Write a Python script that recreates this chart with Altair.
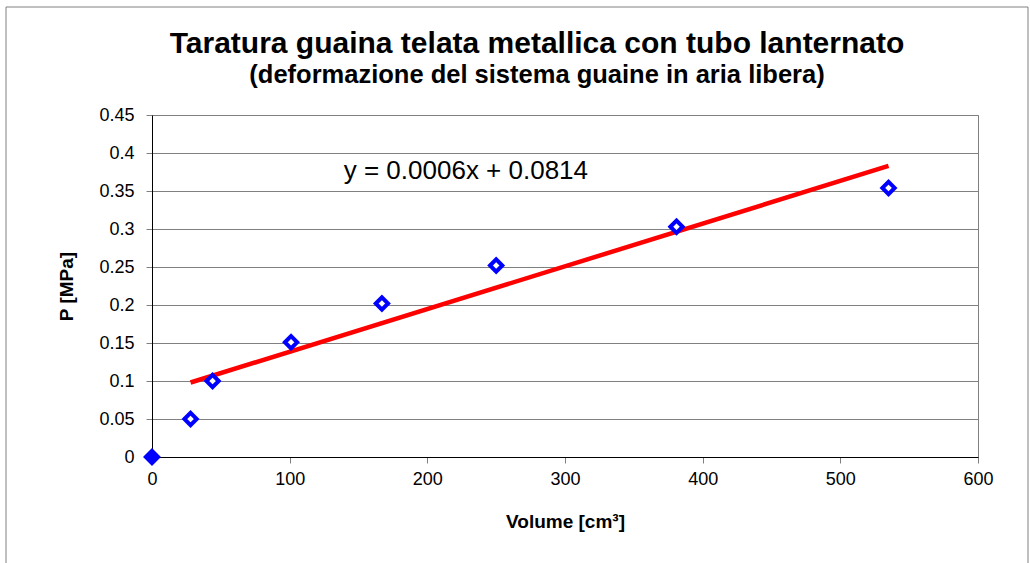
import altair as alt
import pandas as pd

# Data
vol = [0, 28, 44, 101, 167, 250, 381, 535]
pres = [0.0, 0.05, 0.10, 0.151, 0.202, 0.252, 0.303, 0.354]
fill_kind = ["solid", "open", "open", "open", "open", "open", "open", "open"]

trend_x = [28, 535]
trend_y = [0.098, 0.383]

eq_text = ["y = 0.0006x + 0.0814"]
eq_x = [228]
eq_y = [0.376]

x_ticks = [0, 100, 200, 300, 400, 500, 600]
y_ticks = [0, 0.05, 0.1, 0.15, 0.2, 0.25, 0.3, 0.35, 0.4, 0.45]

FONT = "Liberation Sans"

pts = pd.DataFrame({"v": vol, "p": pres, "f": fill_kind})
trend = pd.DataFrame({"v": trend_x, "p": trend_y})
eq = pd.DataFrame({"t": eq_text, "v": eq_x, "p": eq_y})

xscale = alt.Scale(domain=[0, 600], nice=False, zero=True)
yscale = alt.Scale(domain=[0, 0.45], nice=False, zero=True)

xaxis = alt.Axis(
    title="Volume [cm³]", values=x_ticks, grid=False,
    domainColor="black", domainWidth=1, tickColor="#808080", tickSize=6,
    labelFont=FONT, labelFontSize=18, labelColor="black", labelPadding=7,
    titleFont=FONT, titleFontSize=19, titleFontWeight="bold", titleColor="black",
    titlePadding=24, labelFlush=False, labelOverlap=False,
)
yaxis = alt.Axis(
    title="P [MPa]", values=y_ticks, grid=True, gridColor="#808080", gridWidth=1,
    domainColor="black", domainWidth=1, tickColor="#808080", tickSize=6,
    labelFont=FONT, labelFontSize=18, labelColor="black", labelPadding=12,
    titleFont=FONT, titleFontSize=19, titleFontWeight="bold", titleColor="black",
    titlePadding=22, labelFlush=False, labelOverlap=False, format="~g",
)

X = alt.X("v:Q", scale=xscale, axis=xaxis)
Y = alt.Y("p:Q", scale=yscale, axis=yaxis)

border = alt.Chart(pd.DataFrame({"a": [0]})).mark_rect(
    fill=None, stroke="#808080", strokeWidth=1
).encode(
    x=alt.value(-146), x2=alt.value(876), y=alt.value(-108), y2=alt.value(470)
)

line = alt.Chart(trend).mark_line(color="#FF0000", strokeWidth=4.5).encode(x=X, y=Y)

points = alt.Chart(pts).mark_point(
    shape="diamond", size=150, strokeWidth=4, stroke="#0000FF", opacity=1
).encode(
    x=X,
    y=Y,
    fill=alt.Fill("f:N", scale=alt.Scale(domain=["solid", "open"], range=["#0000FF", "white"]), legend=None),
)

label = alt.Chart(eq).mark_text(
    font=FONT, fontSize=26, color="black", align="center", baseline="middle"
).encode(x=X, y=Y, text="t:N")

chart = alt.layer(border, line, points, label).properties(
    width=826,
    height=342,
    title=alt.TitleParams(
        text="Taratura guaina telata metallica con tubo lanternato",
        subtitle="(deformazione del sistema guaine in aria libera)",
        font=FONT, fontSize=30, fontWeight="bold", color="black",
        subtitleFont=FONT, subtitleFontSize=25.5, subtitleFontWeight="bold",
        subtitleColor="black", subtitlePadding=4,
        anchor="middle", dx=-28, offset=-82,
    ),
    autosize=alt.AutoSizeParams(type="none"),
    padding={"left": 152, "top": 115, "right": 52, "bottom": 106},
    background="white",
).configure_view(stroke="#808080", strokeWidth=1)

chart.save("out.html", embed_options={"renderer": "svg", "actions": False})
